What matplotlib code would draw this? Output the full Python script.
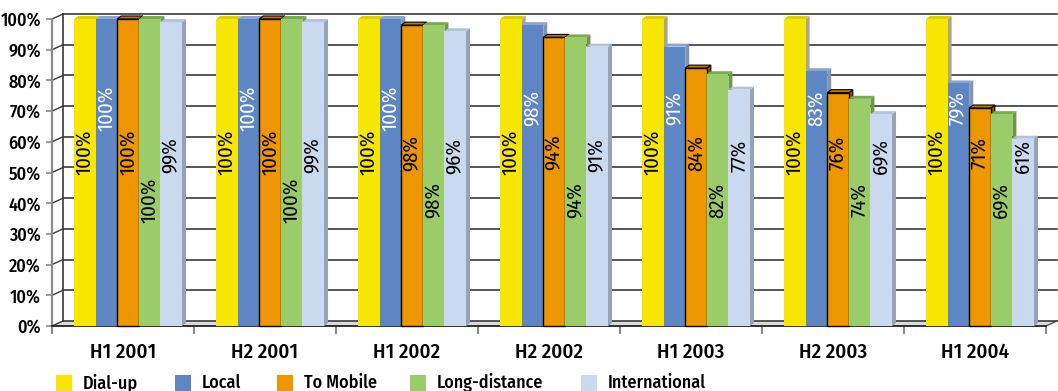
import matplotlib
matplotlib.use("Agg")
import matplotlib.pyplot as plt
from matplotlib.patches import Polygon, Rectangle
from matplotlib.ticker import FuncFormatter
import numpy as np

# ---- data -------------------------------------------------------------
periods = ["H1 2001", "H2 2001", "H1 2002", "H2 2002", "H1 2003", "H2 2003", "H1 2004"]
series_names = ["Dial-up", "Local", "To Mobile", "Long-distance", "International"]
dialup = [100, 100, 100, 100, 100, 100, 100]
local = [100, 100, 100, 98, 91, 83, 79]
to_mobile = [100, 100, 98, 94, 84, 76, 71]
long_distance = [100, 100, 98, 94, 82, 74, 69]
international = [99, 99, 96, 91, 77, 69, 61]
values = [dialup, local, to_mobile, long_distance, international]

# ---- styling ----------------------------------------------------------
front_colors = ["#f7e600", "#5f86c4", "#ee9600", "#9acd6a", "#c9d9f0"]
top_colors = ["#ddd000", "#8da3cf", "#c27800", "#79aa4f", "#b5c3d9"]
side_colors = ["#aaa68a", "#7f93b6", "#8a5a00", "#6d9845", "#97a3b4"]
label_colors = ["black", "white", "black", "black", "black"]
edge_colors = [None, None, "black", None, None]
label_y = [56.5, 71, 56.5, 41, 55.5]          # vertical centre of value labels

plt.rcParams["font.family"] = ["Fira Sans Condensed", "DejaVu Sans"]
plt.rcParams["font.weight"] = 500

W, H, DPI = 1058, 391, 100
fig = plt.figure(figsize=(W / DPI, H / DPI), dpi=DPI)
fig.patch.set_facecolor("white")

# front plane of the plot in pixels
left_px, right_px, top_px, bottom_px = 52, 1046, 19, 326
ax = fig.add_axes([left_px / W, (H - bottom_px) / H,
                   (right_px - left_px) / W, (bottom_px - top_px) / H])
ax.set_xlim(-0.5, len(periods) - 0.5)
ax.set_ylim(0, 100)
ax.set_facecolor("none")

px_x = (right_px - left_px) / len(periods)     # pixels per x unit
px_y = (bottom_px - top_px) / 100.0            # pixels per y unit

# wall depth and bar depth, converted to data units
wall_dx, wall_dy = 11 / px_x, 5 / px_y
bar_dx, bar_dy = 4 / px_x, 3 / px_y

x0, x1 = -0.5, len(periods) - 0.5
grid_vals = np.arange(0, 101, 10)

# floor
ax.add_patch(Polygon([(x0, 0), (x1, 0), (x1 + wall_dx, wall_dy), (x0 + wall_dx, wall_dy)],
                     closed=True, facecolor="#dadada", edgecolor="none",
                     zorder=1, clip_on=False))
ax.plot([x1, x1 + wall_dx], [0, wall_dy], color="#555555", lw=1.0, zorder=1.5, clip_on=False)

# back-wall grid lines and left-wall connectors
for v in grid_vals:
    ax.plot([x0 + wall_dx, x1 + wall_dx], [v + wall_dy, v + wall_dy],
            color="#3a3a3a", lw=1.2, zorder=2, clip_on=False)
    ax.plot([x0, x0 + wall_dx], [v, v + wall_dy],
            color="#3a3a3a", lw=1.0, zorder=2, clip_on=False)
ax.plot([x0 + wall_dx, x0 + wall_dx], [wall_dy, 100 + wall_dy],
        color="#3a3a3a", lw=1.2, zorder=2, clip_on=False)

# ---- bars --------------------------------------------------------------
bar_w = 21.6 / px_x
group_start = -0.345
xpos = np.arange(len(periods))
for i, vals in enumerate(values):
    lefts = xpos + group_start + i * bar_w
    z = 10 + 3 * i
    ec = edge_colors[i]
    for xl, v in zip(lefts, vals):
        xr = xl + bar_w
        ax.add_patch(Polygon([(xr, 0), (xr + bar_dx, bar_dy), (xr + bar_dx, v + bar_dy), (xr, v)],
                             closed=True, facecolor=side_colors[i],
                             edgecolor=ec if ec else "none", lw=0.8, zorder=z, clip_on=False))
        ax.add_patch(Polygon([(xl, v), (xr, v), (xr + bar_dx, v + bar_dy), (xl + bar_dx, v + bar_dy)],
                             closed=True, facecolor=top_colors[i],
                             edgecolor=ec if ec else "none", lw=0.8, zorder=z + 1, clip_on=False))
    ax.bar(lefts, vals, width=bar_w, align="edge", color=front_colors[i],
           edgecolor=ec if ec else "none", linewidth=1.0 if ec else 0,
           zorder=z + 2, clip_on=False)
    for xl, v in zip(lefts, vals):
        ax.text(xl + bar_w / 2, label_y[i], f"{v}%", rotation=90,
                ha="center", va="center", fontsize=15, color=label_colors[i],
                weight="normal", zorder=60)

# ---- axes --------------------------------------------------------------
for s in ["top", "right"]:
    ax.spines[s].set_visible(False)
ax.spines["left"].set_color("#8a8a8a")
ax.spines["left"].set_linewidth(1.6)
ax.spines["bottom"].set_color("#222222")
ax.spines["bottom"].set_linewidth(1.3)
ax.spines["bottom"].set_zorder(5)

ax.set_yticks(grid_vals)
ax.yaxis.set_major_formatter(FuncFormatter(lambda v, p: f"{int(v)}%"))
ax.tick_params(axis="y", direction="out", length=4, width=1.2, color="#8a8a8a",
               pad=4, labelsize=13)

ax.set_xticks(xpos)
ax.set_xticklabels(periods)
ax.set_xticks(np.arange(-0.5, len(periods), 1), minor=True)
ax.tick_params(axis="x", which="major", length=0, pad=12, labelsize=15)
ax.tick_params(axis="x", which="minor", direction="out", length=6, width=1.2, color="#777777")

# ---- legend --------------------------------------------------------------
legend_x = [56, 175, 277, 410, 581]
for name, col, lx in zip(series_names, front_colors, legend_x):
    fig.patches.append(Rectangle((lx / W, 0), 16 / W, 16 / H, transform=fig.transFigure,
                                 facecolor=col, edgecolor="none"))
    fig.text((lx + 27) / W, 2.5 / H, name, fontsize=13, ha="left", va="baseline")

fig.savefig("out.png", dpi=DPI, facecolor="white")
